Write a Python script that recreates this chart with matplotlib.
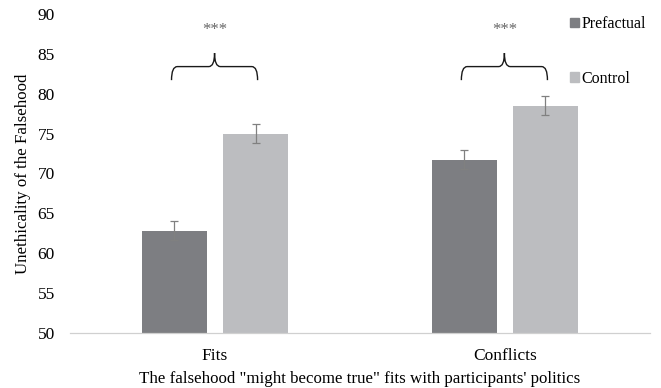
import matplotlib
matplotlib.use("Agg")
import matplotlib.pyplot as plt
from matplotlib.path import Path
from matplotlib.patches import PathPatch, Patch

categories = ["Fits", "Conflicts"]
series_names = ["Prefactual", "Control"]
prefactual = [62.8, 71.7]
control = [75.0, 78.5]
prefactual_err = [1.2, 1.2]
control_err = [1.2, 1.2]
significance = ["***", "***"]
y_ticks = [50, 55, 60, 65, 70, 75, 80, 85, 90]

plt.rcParams["font.family"] = ["Liberation Serif", "DejaVu Serif"]

fig = plt.figure(figsize=(6.61, 3.88), dpi=100)
ax = fig.add_axes([0.106, 0.142, 0.877, 0.822])

dark = "#7d7e82"
light = "#bcbdc0"
width = 0.225
offset = 0.14
xs = list(range(len(categories)))

ax.bar([x - offset for x in xs], prefactual, width, color=dark, label=series_names[0],
       yerr=prefactual_err, error_kw=dict(ecolor="#808080", elinewidth=0.9, capsize=3, capthick=0.9))
ax.bar([x + offset for x in xs], control, width, color=light, label=series_names[1],
       yerr=control_err, error_kw=dict(ecolor="#808080", elinewidth=0.9, capsize=3, capthick=0.9))

# Curly braces with significance stars above each pair of bars
def brace(ax, x0, x1, y_low, y_mid, y_tip):
    xc = (x0 + x1) / 2
    r = 0.02
    verts = [
        (x0, y_low), (x0, y_mid), (x0 + r, y_mid),
        (xc - r, y_mid),
        (xc, y_mid), (xc, y_tip),
        (xc, y_mid), (xc + r, y_mid),
        (x1 - r, y_mid),
        (x1, y_mid), (x1, y_low),
    ]
    codes = [Path.MOVETO, Path.CURVE3, Path.CURVE3,
             Path.LINETO,
             Path.CURVE3, Path.CURVE3,
             Path.CURVE3, Path.CURVE3,
             Path.LINETO,
             Path.CURVE3, Path.CURVE3]
    ax.add_patch(PathPatch(Path(verts, codes), fill=False, edgecolor="#1a1a1a", lw=1.0))

for x, s in zip(xs, significance):
    brace(ax, x - 0.15, x + 0.147, 81.7, 83.4, 85.1)
    ax.text(x, 88.0, s, ha="center", va="center", fontsize=12, color="#666666")

ax.set_xlim(-0.5, 1.5)
ax.set_ylim(50, 90)
ax.set_yticks(y_ticks)
ax.set_xticks(xs)
ax.set_xticklabels(categories)
ax.tick_params(axis="both", length=0, labelsize=12.5)
ax.tick_params(axis="y", pad=11)
ax.tick_params(axis="x", pad=11)
for sp in ["top", "right", "left"]:
    ax.spines[sp].set_visible(False)
ax.spines["bottom"].set_color("#d0d0d0")
ax.spines["bottom"].set_linewidth(0.9)

ax.set_ylabel("Unethicality of the Falsehood", fontsize=12.2, labelpad=5)
ax.set_xlabel("The falsehood \"might become true\" fits with participants' politics",
              fontsize=12.2, labelpad=5)

handles = [Patch(color=dark), Patch(color=light)]
fig.legend(handles, series_names, loc="upper left", bbox_to_anchor=(0.845, 0.987),
           frameon=False, fontsize=11.5, handlelength=0.55, handleheight=0.55,
           handletextpad=0.2, labelspacing=2.4, borderaxespad=0.3)

fig.savefig("out.png", dpi=100)
